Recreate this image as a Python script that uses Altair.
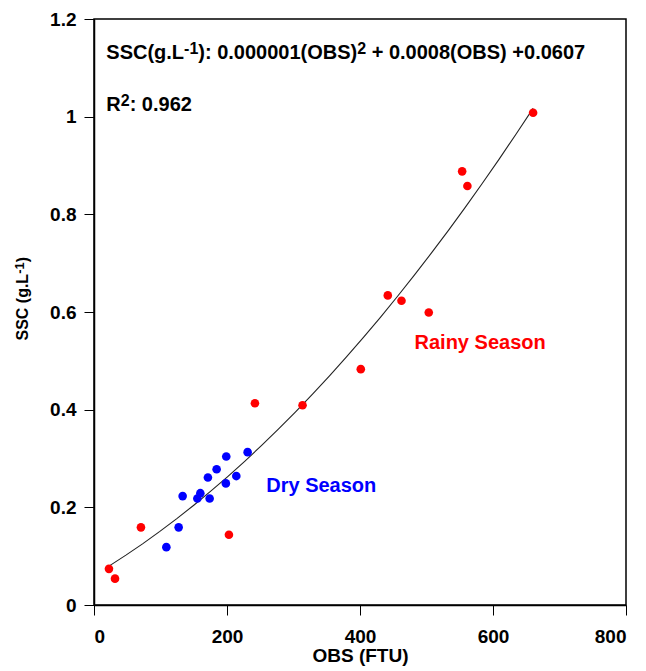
import altair as alt
import pandas as pd

# Rainy season observations (OBS in FTU, SSC in g/L)
rainy_obs = [22.5, 31.6, 70.6, 202.9, 242, 313.6, 401.2, 441.8, 462.4, 503.4, 553.6, 561.5, 660.3]
rainy_ssc = [0.074, 0.054, 0.159, 0.144, 0.413, 0.409, 0.483, 0.634, 0.623, 0.599, 0.888, 0.858, 1.008]

# Dry season observations
dry_obs = [108.8, 127.3, 133.3, 155.4, 159.9, 173.9, 171.3, 184.4, 198.3, 198.9, 214.0, 231.0]
dry_ssc = [0.1185, 0.159, 0.223, 0.218, 0.229, 0.218, 0.261, 0.278, 0.249, 0.304, 0.264, 0.313]

seasons = ["Rainy Season", "Dry Season"]
season_colors = ["#ff0000", "#0000ff"]

x_ticks = [0, 200, 400, 600, 800]
y_ticks = [0, 0.2, 0.4, 0.6, 0.8, 1.0, 1.2]

# rich-text pieces: (text, is_superscript)
equation_parts = [("SSC(g.L", False), ("-1", True), ("): 0.000001(OBS)", False), ("2", True),
                  (" + 0.0008(OBS) +0.0607", False)]
r2_parts = [("R", False), ("2", True), (": 0.962", False)]
ytitle_parts = [("SSC (g.L", False), ("-1", True), (")", False)]

FONT = "Liberation Sans"

# Arial / Liberation Sans Bold advance widths (per 1000 em)
BOLD_W = {"S": 667, "C": 722, "(": 333, ")": 333, "g": 611, ".": 278, "L": 611, "-": 333,
          ":": 333, " ": 278, "O": 778, "B": 722, "+": 584, "R": 722}
for d in "0123456789":
    BOLD_W[d] = 556


def text_width(s, size):
    return sum(BOLD_W.get(ch, 556) for ch in s) * size / 1000.0


df = pd.DataFrame({
    "obs": rainy_obs + dry_obs,
    "ssc": rainy_ssc + dry_ssc,
    "season": [seasons[0]] * len(rainy_obs) + [seasons[1]] * len(dry_obs),
})

xscale = alt.Scale(domain=[0, 800], nice=False)
yscale = alt.Scale(domain=[0, 1.2], nice=False)

xaxis = alt.Axis(values=x_ticks, title="OBS (FTU)", format="d", grid=False,
                 tickSize=10, labelPadding=12, titlePadding=0,
                 labelFontSize=19, titleFontSize=19)
yaxis = alt.Axis(values=y_ticks, title=None, format="~g", grid=False,
                 tickSize=10, labelPadding=8, labelFontSize=19)

base = alt.Chart(df)

points = base.mark_circle(size=74, opacity=1).encode(
    x=alt.X("obs:Q", scale=xscale, axis=xaxis),
    y=alt.Y("ssc:Q", scale=yscale, axis=yaxis),
    color=alt.Color("season:N", scale=alt.Scale(domain=seasons, range=season_colors), legend=None),
)

fit = base.transform_regression(
    "obs", "ssc", method="poly", order=2, extent=[min(rainy_obs + dry_obs), max(rainy_obs + dry_obs)]
).mark_line(color="#222222", strokeWidth=1.1).encode(
    x=alt.X("obs:Q", scale=xscale),
    y=alt.Y("ssc:Q", scale=yscale),
)


def rich_text(parts, ox, oy, size, sup_size, raise_px, angle=0, color="black"):
    layers = []
    offset = 0.0
    anchor = pd.DataFrame({"obs": [ox], "ssc": [oy]})
    for txt, sup in parts:
        fs = sup_size if sup else size
        stripped = txt.lstrip(" ")
        offset += text_width(txt[: len(txt) - len(stripped)], fs)
        kw = dict(align="left", baseline="alphabetic", font=FONT, fontWeight="bold",
                  fontSize=fs, color=color, text=stripped, dx=offset, dy=-raise_px if sup else 0)
        if angle:
            kw["angle"] = angle
        layers.append(alt.Chart(anchor).mark_text(**kw).encode(
            x=alt.X("obs:Q", scale=xscale), y=alt.Y("ssc:Q", scale=yscale)))
        offset += text_width(stripped, fs)
    return layers


labels = pd.DataFrame({
    "obs": [259, 482],
    "ssc": [0.2316, 0.5246],
    "label": ["Dry Season", "Rainy Season"],
    "color": ["#0000ff", "#ff0000"],
})
season_text = alt.Chart(labels).mark_text(align="left", baseline="alphabetic", font=FONT,
                                          fontWeight="bold", fontSize=20).encode(
    x=alt.X("obs:Q", scale=xscale),
    y=alt.Y("ssc:Q", scale=yscale),
    text="label:N",
    color=alt.Color("color:N", scale=None),
)

eq_layers = rich_text(equation_parts, 18.5, 1.119, 20, 16, 5)
r2_layers = rich_text(r2_parts, 18.5, 1.012, 20, 16, 5)
yt_layers = rich_text(ytitle_parts, -99.6, 0.5416, 16, 13, 4, angle=270)

chart = alt.layer(fit, points, season_text, *eq_layers, *r2_layers, *yt_layers).properties(
    width=532, height=586,
    autosize=alt.AutoSizeParams(type="none"),
    padding={"left": 86, "top": 11, "right": 12, "bottom": 66},
).configure_view(
    stroke="black", strokeWidth=1.5
).configure_axis(
    labelFont=FONT, titleFont=FONT, labelFontWeight="bold", titleFontWeight="bold",
    labelColor="black", titleColor="black", domainColor="black", tickColor="black",
    domainWidth=1.5, tickWidth=1,
)

chart.save("out.html", embed_options={"renderer": "svg", "actions": False})
